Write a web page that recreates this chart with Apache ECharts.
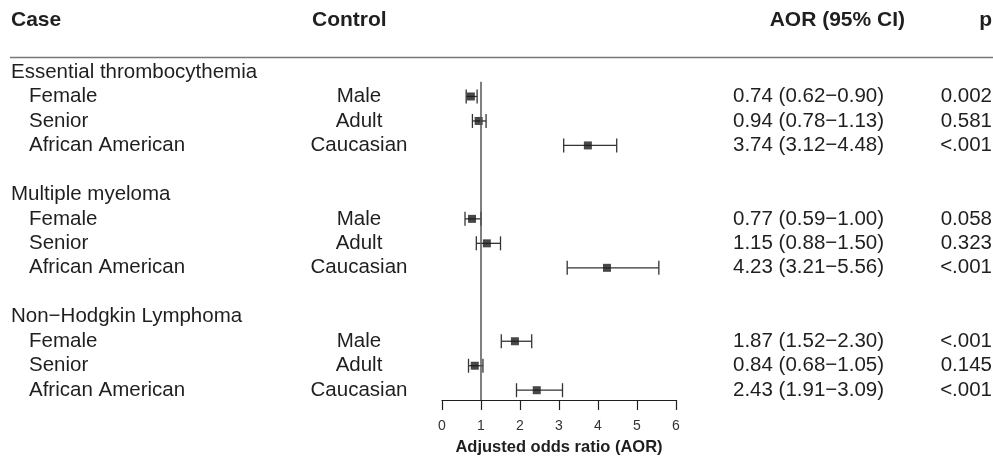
<!DOCTYPE html>
<html>
<head>
<meta charset="utf-8">
<script src="https://cdn.jsdelivr.net/npm/echarts@6/dist/echarts.min.js"></script>
<style>
  html, body { margin: 0; padding: 0; background: #fff; }
  #chart { width: 993px; height: 461px; }
</style>
</head>
<body>
<div id="chart"></div>
<script>
const FONT = "'Liberation Sans', Arial, sans-serif";
const INK = "#1f1f1f";

// data
const groups = ["Essential thrombocythemia", "Multiple myeloma", "Non\u2212Hodgkin Lymphoma"];
const caseLabels = ["Female", "Senior", "African American"];
const controlLabels = ["Male", "Adult", "Caucasian"];
const aor = [[0.74, 0.94, 3.74], [0.77, 1.15, 4.23], [1.87, 0.84, 2.43]];
const lower = [[0.62, 0.78, 3.12], [0.59, 0.88, 3.21], [1.52, 0.68, 1.91]];
const upper = [[0.90, 1.13, 4.48], [1.00, 1.50, 5.56], [2.30, 1.05, 3.09]];
const pValues = [["0.002", "0.581", "<.001"], ["0.058", "0.323", "<.001"], ["<.001", "0.145", "<.001"]];
const xTicks = [0, 1, 2, 3, 4, 5, 6];

// row table: group header then three rows, blank line between groups
const rows = [];
groups.forEach((g, gi) => {
  const base = gi * 5;
  rows.push({ idx: base, text: g, header: true });
  caseLabels.forEach((c, i) => {
    rows.push({
      idx: base + 1 + i,
      text: c,
      control: controlLabels[i],
      ci: aor[gi][i].toFixed(2) + " (" + lower[gi][i].toFixed(2) + "\u2212" + upper[gi][i].toFixed(2) + ")",
      p: pValues[gi][i],
      est: aor[gi][i],
      lo: lower[gi][i],
      hi: upper[gi][i]
    });
  });
});
const items = rows.filter(r => !r.header);

function textCol(getX, getText, align) {
  return {
    type: "custom",
    clip: false,
    silent: true,
    data: rows.map(r => [r.idx]),
    renderItem(params, api) {
      const r = rows[params.dataIndex];
      const t = getText(r);
      if (!t) return null;
      const y = api.coord([0, api.value(0)])[1];
      return {
        type: "text",
        x: getX(r),
        y: y,
        style: { text: t, fill: INK, font: "20.5px " + FONT, align: align, verticalAlign: "middle" }
      };
    }
  };
}

const chart = echarts.init(document.getElementById("chart"));

chart.setOption({
  animation: false,
  backgroundColor: "#fff",
  grid: { left: 442, width: 234, top: 72, bottom: 57 },
  xAxis: {
    type: "value",
    min: xTicks[0],
    max: xTicks[xTicks.length - 1],
    interval: 1,
    axisLine: { show: true, onZero: false, lineStyle: { color: INK, width: 1.2 } },
    axisTick: { show: true, length: 10, lineStyle: { color: INK, width: 1.2 } },
    axisLabel: { color: "#333", fontSize: 14, fontFamily: FONT, margin: 19 },
    splitLine: { show: false },
    name: "Adjusted odds ratio (AOR)",
    nameLocation: "middle",
    nameGap: 39,
    nameTextStyle: { color: INK, fontSize: 16.5, fontWeight: "bold", fontFamily: FONT }
  },
  yAxis: { type: "value", inverse: true, min: 0, max: 13.4, show: false },
  graphic: [
    { type: "text", left: 11, top: 10, style: { text: "Case", fill: INK, font: "bold 21px " + FONT } },
    { type: "text", left: 312, top: 10, style: { text: "Control", fill: INK, font: "bold 21px " + FONT } },
    { type: "text", right: 88, top: 10, style: { text: "AOR (95% CI)", fill: INK, font: "bold 21px " + FONT } },
    { type: "text", right: 1, top: 10, style: { text: "p", fill: INK, font: "bold 21px " + FONT } },
    { type: "line", shape: { x1: 10, y1: 57.5, x2: 993, y2: 57.5 }, style: { stroke: "#777", lineWidth: 1.5 } }
  ],
  series: [
    {
      type: "line",
      silent: true,
      symbol: "none",
      data: [[1, 0.4], [1, 13.4]],
      lineStyle: { color: "#555", width: 1.5 }
    },
    {
      type: "custom",
      silent: true,
      data: items.map(r => [r.lo, r.hi, r.idx]),
      renderItem(params, api) {
        const a = api.coord([api.value(0), api.value(2)]);
        const b = api.coord([api.value(1), api.value(2)]);
        const h = 7;
        const st = { stroke: "#333", lineWidth: 1.3 };
        return {
          type: "group",
          children: [
            { type: "line", shape: { x1: a[0], y1: a[1], x2: b[0], y2: b[1] }, style: st },
            { type: "line", shape: { x1: a[0], y1: a[1] - h, x2: a[0], y2: a[1] + h }, style: st },
            { type: "line", shape: { x1: b[0], y1: b[1] - h, x2: b[0], y2: b[1] + h }, style: st }
          ]
        };
      }
    },
    {
      type: "scatter",
      silent: true,
      symbol: "rect",
      symbolSize: 8,
      itemStyle: { color: "#1a1a1a" },
      data: items.map(r => [r.est, r.idx])
    },
    textCol(r => (r.header ? 11 : 29), r => r.text, "left"),
    textCol(() => 359, r => r.control, "center"),
    textCol(() => 733, r => r.ci, "left"),
    textCol(() => 992, r => r.p, "right")
  ]
});
</script>
</body>
</html>
